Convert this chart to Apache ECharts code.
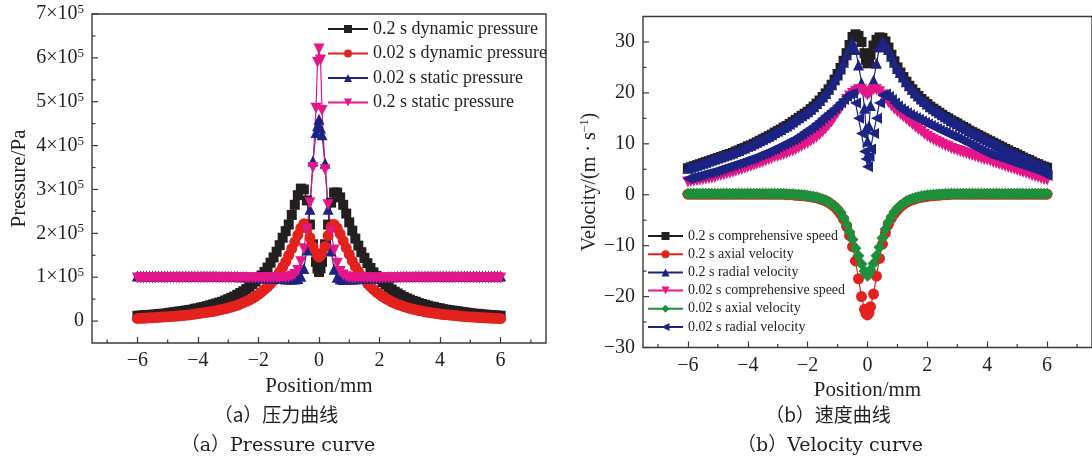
<!DOCTYPE html>
<html><head><meta charset="utf-8">
<script src="https://cdn.jsdelivr.net/npm/echarts@6/dist/echarts.min.js"></script>
<style>html,body{margin:0;padding:0;background:#fff}#c{width:1092px;height:459px}</style>
</head><body><div id="c"></div>
<script>
// Position (mm), shared by all series
const positions = [
-6,-5.9,-5.8,-5.7,-5.6,-5.5,-5.4,-5.3,-5.2,-5.1,
-5,-4.9,-4.8,-4.7,-4.6,-4.5,-4.4,-4.3,-4.2,-4.1,
-4,-3.9,-3.8,-3.7,-3.6,-3.5,-3.4,-3.3,-3.2,-3.1,
-3,-2.9,-2.8,-2.7,-2.6,-2.5,-2.4,-2.3,-2.2,-2.1,
-2,-1.9,-1.8,-1.7,-1.6,-1.5,-1.4,-1.3,-1.2,-1.1,
-1,-0.9,-0.8,-0.7,-0.6,-0.5,-0.4,-0.3,-0.2,-0.1,
-0.05,0,0.05,
0.1,0.2,0.3,0.4,0.5,0.6,0.7,0.8,0.9,1,
1.1,1.2,1.3,1.4,1.5,1.6,1.7,1.8,1.9,2,
2.1,2.2,2.3,2.4,2.5,2.6,2.7,2.8,2.9,3,
3.1,3.2,3.3,3.4,3.5,3.6,3.7,3.8,3.9,4,
4.1,4.2,4.3,4.4,4.5,4.6,4.7,4.8,4.9,5,
5.1,5.2,5.3,5.4,5.5,5.6,5.7,5.8,5.9,6];

// Pressure, in units of 10^5 Pa
const dynP_02s = [
0.12,0.125,0.13,0.135,0.14,0.145,0.15,0.16,0.165,0.17,
0.18,0.19,0.2,0.21,0.22,0.23,0.24,0.25,0.26,0.28,
0.29,0.31,0.32,0.34,0.36,0.38,0.4,0.42,0.44,0.47,
0.5,0.53,0.56,0.6,0.64,0.68,0.73,0.78,0.84,0.9,
0.97,1.04,1.12,1.22,1.33,1.45,1.58,1.73,1.9,2.05,
2.2,2.42,2.65,2.87,3.02,3.0,2.75,2.2,1.75,1.35,
1.2,1.12,1.2,
1.35,1.75,2.2,2.7,2.93,2.93,2.82,2.65,2.45,2.25,
2.06,1.88,1.72,1.57,1.44,1.32,1.21,1.11,1.03,0.96,
0.89,0.83,0.77,0.72,0.67,0.63,0.59,0.55,0.52,0.49,
0.46,0.44,0.41,0.39,0.37,0.35,0.33,0.32,0.3,0.29,
0.27,0.26,0.25,0.24,0.23,0.22,0.21,0.2,0.19,0.18,
0.17,0.165,0.16,0.15,0.145,0.14,0.135,0.13,0.125,0.12];
const dynP_002s = [
0.06,0.063,0.066,0.07,0.073,0.077,0.08,0.085,0.09,0.095,
0.1,0.105,0.11,0.115,0.12,0.127,0.134,0.14,0.15,0.16,
0.17,0.18,0.19,0.2,0.21,0.22,0.235,0.25,0.265,0.28,
0.3,0.32,0.34,0.36,0.39,0.42,0.45,0.48,0.52,0.56,
0.61,0.66,0.72,0.78,0.85,0.93,1.02,1.12,1.23,1.35,
1.5,1.65,1.8,1.96,2.12,2.22,2.12,1.9,1.7,1.55,
1.5,1.46,1.5,
1.55,1.7,1.95,2.15,2.2,2.12,1.99,1.83,1.67,1.52,
1.37,1.24,1.13,1.03,0.94,0.86,0.79,0.72,0.66,0.61,
0.56,0.52,0.48,0.44,0.41,0.38,0.36,0.33,0.31,0.29,
0.27,0.26,0.24,0.23,0.21,0.2,0.19,0.18,0.17,0.16,
0.15,0.145,0.14,0.13,0.125,0.12,0.11,0.105,0.1,0.095,
0.09,0.085,0.08,0.078,0.075,0.07,0.067,0.064,0.06,0.058];
const statP_002s = [
1.03,1.03,1.03,1.03,1.03,1.03,1.03,1.03,1.03,1.03,
1.03,1.03,1.03,1.03,1.03,1.03,1.03,1.03,1.03,1.03,
1.03,1.03,1.03,1.03,1.03,1.03,1.03,1.02,1.02,1.02,
1.02,1.02,1.02,1.02,1.01,1.01,1.01,1.0,1.0,1.0,
0.99,0.99,0.99,0.98,0.98,0.98,0.97,0.97,0.97,0.96,
0.96,0.96,0.96,0.97,1.02,1.2,1.62,2.55,3.65,4.3,
4.45,4.6,4.4,
4.25,3.6,2.55,1.6,1.18,1.0,0.96,0.95,0.95,0.96,
0.96,0.96,0.97,0.97,0.97,0.98,0.98,0.99,0.99,1.0,
1.0,1.0,1.01,1.01,1.01,1.02,1.02,1.02,1.02,1.02,
1.02,1.03,1.03,1.03,1.03,1.03,1.03,1.03,1.03,1.03,
1.03,1.03,1.03,1.03,1.03,1.03,1.03,1.03,1.03,1.03,
1.03,1.03,1.03,1.03,1.03,1.03,1.03,1.03,1.03,1.03];
const statP_02s = [
0.98,0.98,0.98,0.98,0.98,0.98,0.98,0.98,0.98,0.98,
0.98,0.98,0.98,0.98,0.98,0.98,0.98,0.98,0.98,0.98,
0.98,0.98,0.98,0.98,0.98,0.98,0.98,0.98,0.98,0.98,
0.98,0.98,0.98,0.98,0.98,0.98,0.98,0.98,0.98,0.98,
0.98,0.98,0.98,0.98,0.98,0.98,0.98,0.98,0.99,0.99,
1.0,1.02,1.06,1.15,1.35,1.65,2.1,2.7,3.5,4.85,
5.9,6.2,5.95,
4.8,3.45,2.65,2.05,1.62,1.32,1.13,1.05,1.01,0.99,
0.98,0.98,0.98,0.98,0.98,0.98,0.98,0.98,0.98,0.98,
0.98,0.98,0.98,0.98,0.98,0.98,0.98,0.98,0.98,0.98,
0.98,0.98,0.98,0.98,0.98,0.98,0.98,0.98,0.98,0.98,
0.98,0.98,0.98,0.98,0.98,0.98,0.98,0.98,0.98,0.98,
0.98,0.98,0.98,0.98,0.98,0.98,0.98,0.98,0.98,0.98];

// Velocity, m/s
const compV_02s = [
5.2,5.4,5.6,5.8,6.0,6.2,6.4,6.6,6.8,7.0,
7.2,7.4,7.6,7.8,8.0,8.2,8.5,8.7,9.0,9.2,
9.5,9.7,10.0,10.3,10.6,10.9,11.2,11.5,11.8,12.2,
12.5,12.8,13.2,13.5,13.9,14.3,14.7,15.1,15.5,15.9,
16.3,16.8,17.3,17.9,18.5,19.2,19.9,20.7,21.6,22.6,
23.7,24.9,26.3,27.8,29.4,31.0,31.5,31.2,30.0,27.8,
26.5,25.8,26.3,
27.5,29.3,30.4,30.9,30.8,30.1,28.9,27.5,26.2,25.0,
24.0,23.1,22.2,21.4,20.7,20.0,19.4,18.8,18.3,17.8,
17.3,16.9,16.5,16.1,15.7,15.3,15.0,14.6,14.3,14.0,
13.6,13.3,13.0,12.6,12.3,12.0,11.7,11.4,11.1,10.8,
10.5,10.2,9.9,9.6,9.3,9.0,8.7,8.4,8.2,7.9,
7.6,7.3,7.0,6.8,6.5,6.2,6.0,5.7,5.5,5.3];
const axialV_02s = [
0.1,0.1,0.1,0.1,0.1,0.1,0.1,0.1,0.1,0.1,
0.1,0.1,0.1,0.1,0.1,0.1,0.1,0.1,0.1,0.1,
0.1,0.1,0.1,0.1,0.1,0.1,0.1,0.1,0.1,0.1,
0.1,0.1,0.1,0.0,0.0,0.0,-0.1,-0.1,-0.2,-0.2,
-0.3,-0.4,-0.5,-0.6,-0.8,-1.0,-1.2,-1.5,-1.9,-2.4,
-3.0,-3.8,-4.8,-6.2,-8.0,-10.2,-13.0,-16.5,-20.0,-22.5,
-23.3,-23.6,-23.2,
-22.0,-19.5,-16.0,-12.5,-9.7,-7.5,-5.8,-4.6,-3.7,-3.0,
-2.4,-1.9,-1.5,-1.2,-1.0,-0.8,-0.6,-0.5,-0.4,-0.3,
-0.2,-0.2,-0.1,-0.1,0.0,0.0,0.0,0.1,0.1,0.1,
0.1,0.1,0.1,0.1,0.1,0.1,0.1,0.1,0.1,0.1,
0.1,0.1,0.1,0.1,0.1,0.1,0.1,0.1,0.1,0.1,
0.1,0.1,0.1,0.1,0.1,0.1,0.1,0.1,0.1,0.1];
const radialV_02s = [
5.2,5.4,5.6,5.8,6.0,6.2,6.4,6.6,6.8,7.0,
7.2,7.4,7.6,7.8,8.0,8.2,8.5,8.7,9.0,9.2,
9.5,9.7,10.0,10.3,10.6,10.9,11.2,11.5,11.8,12.2,
12.5,12.8,13.2,13.5,13.9,14.3,14.7,15.1,15.5,15.9,
16.3,16.8,17.3,17.9,18.5,19.2,19.9,20.7,21.6,22.6,
23.5,24.7,26.0,27.5,29.0,30.0,28.5,25.5,22.0,17.0,
13.0,10.5,13.5,
17.5,22.5,25.8,29.0,30.0,29.6,28.5,27.2,26.0,24.8,
24.0,23.1,22.2,21.4,20.7,20.0,19.4,18.8,18.3,17.8,
17.3,16.9,16.5,16.1,15.7,15.3,15.0,14.6,14.3,14.0,
13.6,13.3,13.0,12.6,12.3,12.0,11.7,11.4,11.1,10.8,
10.5,10.2,9.9,9.6,9.3,9.0,8.7,8.4,8.2,7.9,
7.6,7.3,7.0,6.8,6.5,6.2,6.0,5.7,5.5,5.3];
const compV_002s = [
2.5,2.6,2.7,2.8,2.9,3.0,3.1,3.2,3.3,3.4,
3.7,3.8,3.9,4.1,4.2,4.4,4.6,4.8,5.0,5.2,
5.4,5.6,5.8,6.0,6.2,6.4,6.6,6.9,7.1,7.4,
7.5,7.7,7.9,8.1,8.4,8.6,8.9,9.2,9.5,9.8,
10.1,10.5,10.9,11.3,11.8,12.3,12.9,13.6,14.3,15.1,
16.0,16.9,17.8,18.7,19.4,19.9,20.3,20.6,20.6,20.2,
19.9,19.6,19.9,
20.2,20.6,20.6,20.2,19.6,18.9,18.1,17.4,16.8,16.3,
15.8,15.3,14.8,14.3,13.8,13.3,12.8,12.4,11.9,11.5,
11.1,10.8,10.5,10.2,9.9,9.6,9.4,9.1,8.9,8.7,
8.5,8.3,8.1,7.9,7.7,7.5,7.3,7.1,6.9,6.8,
6.6,6.4,6.2,6.0,5.8,5.6,5.4,5.2,5.0,4.8,
4.6,4.4,4.2,4.0,3.8,3.6,3.4,3.2,3.0,2.9];
const axialV_002s = [
0.2,0.2,0.2,0.2,0.2,0.2,0.2,0.2,0.2,0.2,
0.2,0.2,0.2,0.2,0.2,0.2,0.2,0.2,0.2,0.2,
0.2,0.2,0.2,0.2,0.2,0.2,0.2,0.2,0.2,0.2,
0.2,0.2,0.2,0.15,0.1,0.1,0.05,0.0,-0.05,-0.1,
-0.2,-0.3,-0.4,-0.5,-0.7,-0.9,-1.1,-1.4,-1.8,-2.2,
-2.8,-3.5,-4.5,-5.8,-7.3,-8.8,-10.5,-12.0,-13.6,-15.0,
-15.5,-15.9,-15.5,
-14.8,-13.5,-12.0,-10.3,-8.5,-6.8,-5.4,-4.3,-3.4,-2.7,
-2.1,-1.7,-1.3,-1.0,-0.8,-0.6,-0.45,-0.3,-0.2,-0.1,
-0.05,0.0,0.05,0.1,0.1,0.15,0.15,0.2,0.2,0.2,
0.2,0.2,0.2,0.2,0.2,0.2,0.2,0.2,0.2,0.2,
0.2,0.2,0.2,0.2,0.2,0.2,0.2,0.2,0.2,0.2,
0.2,0.2,0.2,0.2,0.2,0.2,0.2,0.2,0.2,0.2];
const radialV_002s = [
3.2,3.35,3.5,3.65,3.8,3.95,4.1,4.25,4.4,4.6,
4.8,5.0,5.2,5.4,5.6,5.8,6.0,6.2,6.4,6.6,
6.8,7.0,7.2,7.5,7.7,8.0,8.2,8.5,8.8,9.0,
9.3,9.6,9.9,10.2,10.5,10.8,11.1,11.5,11.9,12.3,
12.7,13.1,13.5,14.0,14.5,15.0,15.5,16.0,16.5,17.0,
17.5,18.1,18.7,19.3,19.8,19.9,18.0,15.0,12.0,8.5,
7.0,5.5,7.5,
9.0,12.0,15.0,18.0,19.6,19.8,19.3,18.7,18.0,17.4,
16.9,16.5,16.1,15.7,15.4,15.1,14.8,14.5,14.2,13.9,
13.6,13.3,13.0,12.7,12.4,12.2,11.9,11.6,11.4,11.1,
10.8,10.5,10.2,9.9,9.6,9.3,9.0,8.7,8.4,8.1,
7.9,7.7,7.5,7.3,7.1,6.9,6.7,6.5,6.3,6.1,
5.9,5.7,5.5,5.3,5.1,4.9,4.6,4.4,4.1,3.8];

// Tick values
const posTicks = [-6,-4,-2,0,2,4,6];
const posMinorTicks = [-7,-5,-3,-1,1,3,5,7];
const pressureTicks = [0,1,2,3,4,5,6,7];
const pressureMinorTicks = [0.5,1.5,2.5,3.5,4.5,5.5,6.5];
const velocityTicks = [-30,-20,-10,0,10,20,30];
const velocityMinorTicks = [-25,-15,-5,5,15,25];

const pressureNames = ['0.2 s dynamic pressure','0.02 s dynamic pressure','0.02 s static pressure','0.2 s static pressure'];
const velocityNames = ['0.2 s comprehensive speed','0.2 s axial velocity','0.2 s radial velocity','0.02 s comprehensive speed','0.02 s axial velocity','0.02 s radial velocity'];

const SERIF = "'Liberation Serif','Times New Roman',serif";
const INK = '#231f20';
const AX = '#3a3a3a';
const C = {black:'#231f20', red:'#e3211d', navy:'#1d2383', magenta:'#e5168a', green:'#1f8f3c'};
const DOWN = 'path://M0,0 L10,0 L5,9 Z';
const LEFT = 'path://M0,5 L9,0 L9,10 Z';
const X_RANGE = [-7.5, 7.5];
const P_RANGE = [-0.5, 7];
const V_RANGE = [-30, 35];

const minus = v => v < 0 ? '\u2212' + Math.abs(v) : String(v);
const pairs = ys => positions.map((x, i) => [x, ys[i]]);

function xAx(grid, name){
  return {gridIndex:grid, type:'value', min:X_RANGE[0], max:X_RANGE[1], position:'bottom',
    axisLine:{show:false, onZero:false},
    axisTick:{show:true, inside:true, length:6, customValues:posTicks, lineStyle:{color:AX, width:1.2}},
    axisLabel:{customValues:posTicks, formatter:minus, fontSize:20, fontFamily:SERIF, color:INK, margin:8},
    splitLine:{show:false}, minorSplitLine:{show:false},
    name:name, nameLocation:'middle', nameGap:30,
    nameTextStyle:{fontSize:21, fontFamily:SERIF, color:INK}};
}

// short inner ticks, placed through the axes' own scales
function innerTicks(gi, values, horizontal, yMin, xMin, len){
  return {type:'custom', xAxisIndex:gi, yAxisIndex:gi, silent:true, clip:false, z:5,
    data: values.map(v => horizontal ? [v, yMin] : [xMin, v]),
    renderItem: (params, api) => {
      const p = api.coord([api.value(0), api.value(1)]);
      return {type:'line', shape: horizontal ? {x1:p[0], y1:p[1], x2:p[0], y2:p[1]-len}
                                             : {x1:p[0], y1:p[1], x2:p[0]+len, y2:p[1]},
        style:{stroke:AX, lineWidth:1.2}};
    }};
}

const option = {
  animation:false,
  backgroundColor:'#fff',
  grid:[
    {left:92, top:14, width:454, height:329, show:true, borderColor:AX, borderWidth:1.4, containLabel:false},
    {left:643, top:16.5, width:450, height:331, show:true, borderColor:AX, borderWidth:1.4, containLabel:false}
  ],
  xAxis:[ xAx(0,'Position/mm'), xAx(1,'Position/mm') ],
  yAxis:[
    {gridIndex:0, type:'value', min:P_RANGE[0], max:P_RANGE[1], position:'left',
      axisLine:{show:false, onZero:false},
      axisTick:{show:false},
      axisLabel:{customValues:pressureTicks, margin:8, color:INK, fontFamily:SERIF,
        formatter: v => v === 0 ? '{m|0}' : '{m|' + v + '\u00d710}{s|5}',
        rich:{m:{fontSize:20, lineHeight:20, fontFamily:SERIF, color:INK},
              s:{fontSize:13, lineHeight:13, fontFamily:SERIF, color:INK, padding:[0,0,9,0]}}},
      splitLine:{show:false}, minorSplitLine:{show:false},
      name:'Pressure/Pa', nameLocation:'middle', nameGap:62, nameRotate:90,
      nameTextStyle:{fontSize:21, fontFamily:SERIF, color:INK}},
    {gridIndex:1, type:'value', min:V_RANGE[0], max:V_RANGE[1], position:'left',
      axisLine:{show:false, onZero:false},
      axisTick:{show:false},
      axisLabel:{customValues:velocityTicks, formatter:minus, fontSize:20, fontFamily:SERIF, color:INK, margin:8},
      splitLine:{show:false}, minorSplitLine:{show:false},
      name:'{a|Velocity/(m \u00b7 s}{s|\u22121}{a|)}', nameLocation:'middle', nameGap:42, nameRotate:90,
      nameTextStyle:{color:INK, rich:{a:{fontSize:20, lineHeight:20, fontFamily:SERIF, color:INK},
        s:{fontSize:12, lineHeight:12, fontFamily:SERIF, color:INK, padding:[0,0,9,0]}}}}
  ],
  legend:[
    {data:pressureNames, orient:'vertical', left:327, top:20, itemWidth:40, itemHeight:10, itemGap:6.5, padding:0,
      textStyle:{fontSize:18, fontFamily:SERIF, color:INK}},
    {data:velocityNames, orient:'vertical', left:647, top:229, itemWidth:35, itemHeight:10, itemGap:4.2, padding:0,
      textStyle:{fontSize:14, fontFamily:SERIF, color:INK}}
  ],
  graphic:[
    {type:'text', x:276, y:415, style:{text:'（a）压力曲线', font:"19px 'Noto Sans CJK SC'", fill:INK, textAlign:'center', textVerticalAlign:'middle'}},
    {type:'text', x:278, y:446, style:{text:'（a）Pressure curve', font:"19px 'DejaVu Serif','Noto Sans CJK SC'", fill:INK, textAlign:'center', textVerticalAlign:'middle'}},
    {type:'text', x:828, y:415, style:{text:'（b）速度曲线', font:"19px 'Noto Sans CJK SC'", fill:INK, textAlign:'center', textVerticalAlign:'middle'}},
    {type:'text', x:830, y:446, style:{text:'（b）Velocity curve', font:"19px 'DejaVu Serif','Noto Sans CJK SC'", fill:INK, textAlign:'center', textVerticalAlign:'middle'}}
  ],
  series:[]
};

function line(name, data, gi, color, symbol, size){
  return {type:'line', name:name, data:pairs(data), xAxisIndex:gi, yAxisIndex:gi,
    symbol:symbol, symbolSize:size, showAllSymbol:true,
    lineStyle:{color:color, width:1.2}, itemStyle:{color:color}, emphasis:{disabled:true}};
}
option.series = [
  line(pressureNames[0], dynP_02s, 0, C.black, 'rect', 10),
  line(pressureNames[1], dynP_002s, 0, C.red, 'circle', 11),
  line(pressureNames[2], statP_002s, 0, C.navy, 'triangle', 11),
  line(pressureNames[3], statP_02s, 0, C.magenta, DOWN, 11),
  line(velocityNames[0], compV_02s, 1, C.black, 'rect', 10),
  line(velocityNames[1], axialV_02s, 1, C.red, 'circle', 11),
  line(velocityNames[2], radialV_02s, 1, C.navy, 'triangle', 11),
  line(velocityNames[3], compV_002s, 1, C.magenta, DOWN, 11),
  line(velocityNames[4], axialV_002s, 1, C.green, 'diamond', 12),
  line(velocityNames[5], radialV_002s, 1, C.navy, LEFT, 11),
  innerTicks(0, posMinorTicks, true, P_RANGE[0], X_RANGE[0], 3.5),
  innerTicks(0, pressureTicks, false, P_RANGE[0], X_RANGE[0], 6),
  innerTicks(0, pressureMinorTicks, false, P_RANGE[0], X_RANGE[0], 3.5),
  innerTicks(1, posMinorTicks, true, V_RANGE[0], X_RANGE[0], 3.5),
  innerTicks(1, velocityTicks, false, V_RANGE[0], X_RANGE[0], 6),
  innerTicks(1, velocityMinorTicks, false, V_RANGE[0], X_RANGE[0], 3.5)
];

const chart = echarts.init(document.getElementById('c'), null, {renderer:'canvas'});
chart.setOption(option);
</script>
</body></html>
